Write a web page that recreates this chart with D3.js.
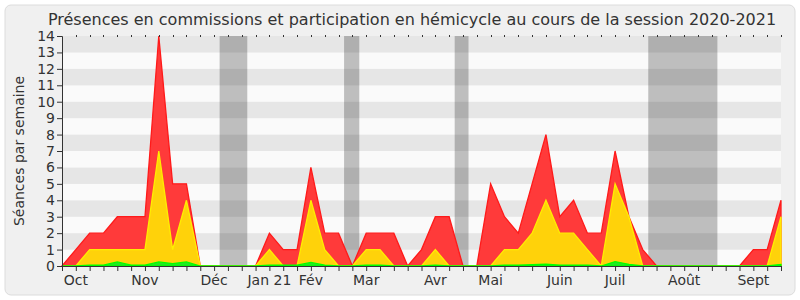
<!DOCTYPE html>
<html>
<head>
<meta charset="utf-8">
<script src="https://cdn.jsdelivr.net/npm/d3@7"></script>
<style>
  body { margin: 0; background: #fff; }
  text { font-family: "DejaVu Sans", sans-serif; fill: #333; }
</style>
</head>
<body>
<div id="wrapper"></div>
<script>
// weekly values, week 0 = end of Sept 2020
const red    = [0,1,2,2,3,3,3,14,5,5,0,0,0,0, 0,2,1,1,6,2,2,0,2,2,2,0,1,3,3,0, 0,5,3,2,5,8,3,4,2,2,7,3,1,0, 0,0,0,0,0,0,1,1,4];
const yellow = [0,0,1,1,1,1,1,7,1,4,0,0,0,0, 0,1,0,0,4,1,0,0,1,1,0,0,0,1,0,0, 0,0,1,1,2,4,2,2,1,0,5,3,0,0, 0,0,0,0,0,0,0,0,3];
const green  = [0,0,0.05,0.05,0.25,0.05,0.05,0.25,0.15,0.25,0,0,0,0, 0,0.05,0.05,0.05,0.22,0.05,0,0,0.05,0.05,0,0,0,0.05,0,0, 0,0,0.05,0.05,0.08,0.12,0.05,0.05,0.05,0,0.27,0.1,0,0, 0,0,0,0,0,0,0,0,0.1];

const monthLabels = ["Oct","Nov","Déc","Jan 21","Fév","Mar","Avr","Mai","Juin","Juil","Août","Sept"];
const monthWeeks  = [1,6,11,15,18,22,27,31,36,40,45,50];

// holidays, in week units
const holidays = [[11.4,13.4],[20.4,21.5],[28.4,29.4],[42.4,47.4]];

const yTicks = d3.range(0,15);

const dimensions = { width:800, height:300, left:62, right:781, top:36, bottom:266 };

const svg = d3.select("#wrapper").append("svg")
  .attr("width", dimensions.width)
  .attr("height", dimensions.height);

svg.append("rect")
  .attr("x",5).attr("y",5).attr("width",790).attr("height",290)
  .attr("rx",6)
  .attr("fill","#f0f0f0").attr("stroke","#dcdcdc");

const xScale = d3.scaleLinear()
  .domain([0, red.length-1])
  .range([dimensions.left, dimensions.right]);

const yScale = d3.scaleLinear()
  .domain([0,14])
  .range([dimensions.bottom, dimensions.top]);

// striped background
svg.append("g").selectAll("rect")
  .data(d3.range(0,14))
  .join("rect")
  .attr("x", dimensions.left)
  .attr("width", dimensions.right - dimensions.left)
  .attr("y", d => yScale(d+1))
  .attr("height", d => yScale(d) - yScale(d+1))
  .attr("fill", d => d % 2 ? "#e6e6e6" : "#fafafa");

// holidays
svg.append("g").selectAll("rect")
  .data(holidays)
  .join("rect")
  .attr("x", d => xScale(d[0]))
  .attr("width", d => xScale(d[1]) - xScale(d[0]))
  .attr("y", dimensions.top)
  .attr("height", dimensions.bottom - dimensions.top)
  .attr("fill", "rgba(0,0,0,0.24)");

const area = d3.area()
  .x((d,i) => xScale(i))
  .y0(yScale(0))
  .y1(d => yScale(d));

const series = [
  {values: red,    fill:"#ff3a3a", stroke:"#ff1a1a"},
  {values: yellow, fill:"#ffd20a", stroke:"#ffee00"},
  {values: green,  fill:"#22e822", stroke:"#00ff00"}
];

svg.append("g").selectAll("path")
  .data(series)
  .join("path")
  .attr("d", d => area(d.values))
  .attr("fill", d => d.fill)
  .attr("stroke", d => d.stroke)
  .attr("stroke-width", 1.3)
  .attr("stroke-linejoin","miter");

// axes
const yAxis = d3.axisLeft(yScale).tickValues(yTicks).tickSize(5).tickPadding(2);
const gy = svg.append("g")
  .attr("transform", `translate(${dimensions.left},0)`)
  .call(yAxis);
gy.select(".domain").attr("stroke","#333");
gy.selectAll("line").attr("stroke","#333");
gy.selectAll("text").attr("font-size",14).attr("fill","#333");

const xAxis = d3.axisBottom(xScale).tickValues(d3.range(0, red.length)).tickSize(5).tickFormat("");
const gx = svg.append("g")
  .attr("transform", `translate(0,${dimensions.bottom})`)
  .call(xAxis);
gx.select(".domain").attr("stroke","#333");
gx.selectAll("line").attr("stroke","#333");

// small ticks on top
svg.append("g").selectAll("line")
  .data(d3.range(1, red.length))
  .join("line")
  .attr("x1", d => Math.round(xScale(d))+0.5)
  .attr("x2", d => Math.round(xScale(d))+0.5)
  .attr("y1", dimensions.top-1)
  .attr("y2", dimensions.top+1)
  .attr("stroke","#333");

svg.append("g").selectAll("text")
  .data(monthLabels)
  .join("text")
  .attr("x", (d,i) => xScale(monthWeeks[i]))
  .attr("y", 285)
  .attr("text-anchor","middle")
  .attr("font-size",14)
  .text(d => d);

svg.append("text")
  .attr("transform","translate(24,151) rotate(-90)")
  .attr("text-anchor","middle")
  .attr("font-size",14)
  .text("Séances par semaine");

svg.append("text")
  .attr("x", 412)
  .attr("y", 25)
  .attr("text-anchor","middle")
  .attr("font-size",16)
  .text("Présences en commissions et participation en hémicycle au cours de la session 2020-2021");
</script>
</body>
</html>
